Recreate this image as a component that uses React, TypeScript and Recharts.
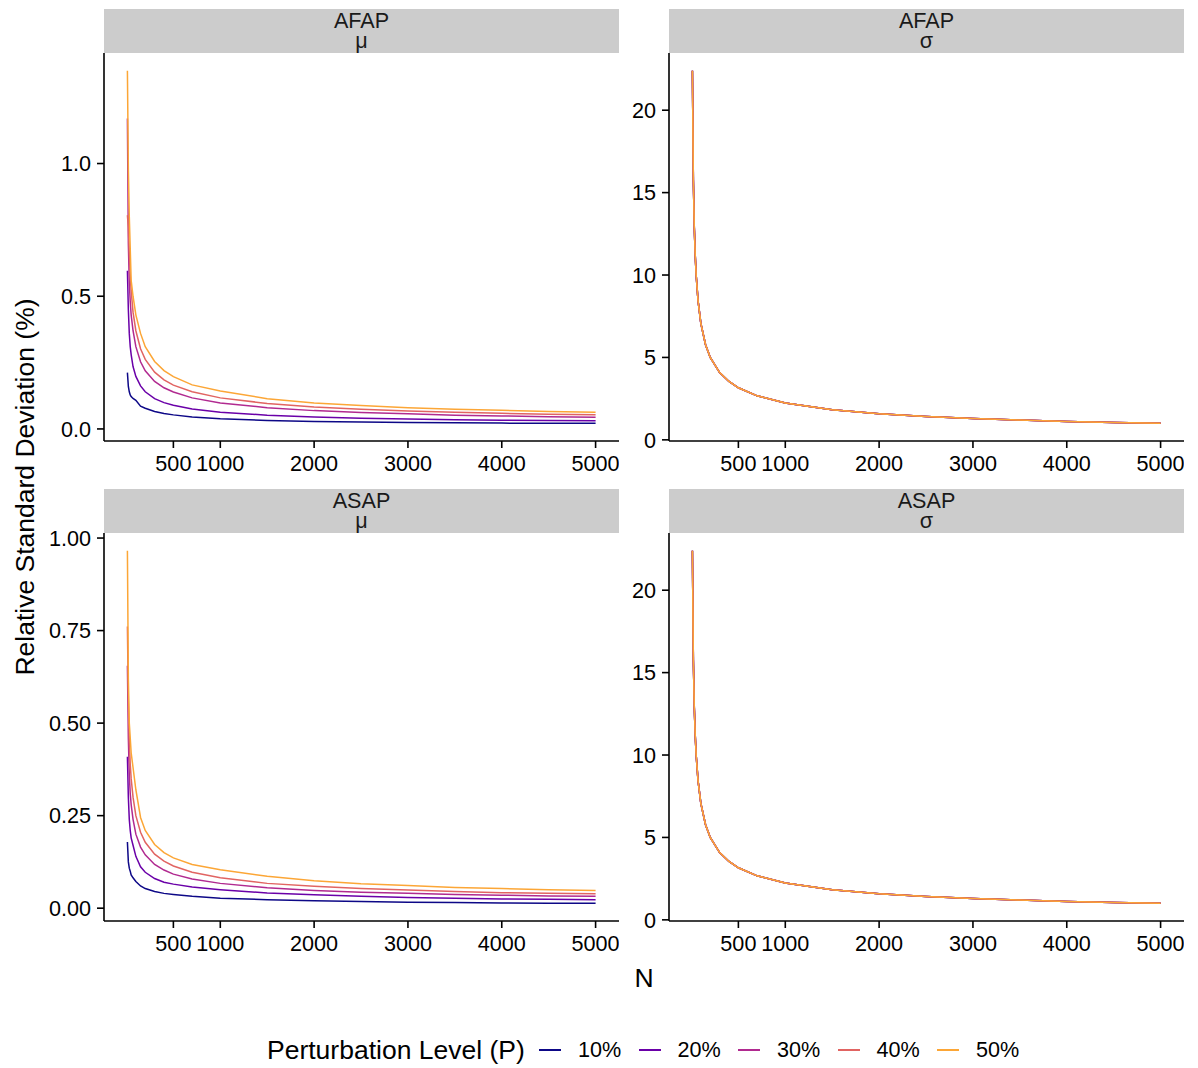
import { LineChart, Line, XAxis, YAxis } from "recharts";

// sample sizes N read along the x axis
const nValues = [10, 20, 30, 40, 50, 70, 100, 150, 200, 300, 400, 500, 700, 1000, 1500, 2000, 2500, 3000, 3500, 4000, 4500, 5000];

// AFAP, mu
const afapMu10 = [0.212, 0.16, 0.14, 0.128, 0.122, 0.115, 0.108, 0.086, 0.078, 0.066, 0.058, 0.053, 0.045, 0.038, 0.032, 0.028, 0.026, 0.024, 0.023, 0.022, 0.021, 0.021];
const afapMu20 = [0.596, 0.45, 0.36, 0.31, 0.28, 0.235, 0.198, 0.162, 0.14, 0.114, 0.099, 0.089, 0.075, 0.063, 0.052, 0.045, 0.04, 0.037, 0.035, 0.033, 0.032, 0.031];
const afapMu30 = [1.17, 0.7, 0.55, 0.48, 0.43, 0.37, 0.31, 0.253, 0.219, 0.179, 0.155, 0.139, 0.117, 0.098, 0.08, 0.069, 0.062, 0.057, 0.052, 0.049, 0.046, 0.044];
const afapMu40 = [0.805, 0.76, 0.66, 0.58, 0.52, 0.44, 0.37, 0.302, 0.262, 0.214, 0.185, 0.165, 0.14, 0.117, 0.096, 0.083, 0.074, 0.068, 0.063, 0.059, 0.055, 0.053];
const afapMu50 = [1.35, 0.98, 0.8, 0.68, 0.56, 0.5, 0.43, 0.36, 0.31, 0.254, 0.22, 0.197, 0.166, 0.143, 0.114, 0.098, 0.088, 0.08, 0.074, 0.07, 0.066, 0.063];

// ASAP, mu
const asapMu10 = [0.179, 0.125, 0.108, 0.1, 0.09, 0.082, 0.072, 0.06, 0.053, 0.045, 0.04, 0.037, 0.032, 0.027, 0.023, 0.02, 0.018, 0.016, 0.015, 0.014, 0.013, 0.013];
const asapMu20 = [0.409, 0.3, 0.24, 0.21, 0.19, 0.17, 0.14, 0.112, 0.097, 0.08, 0.07, 0.065, 0.057, 0.05, 0.041, 0.036, 0.032, 0.029, 0.027, 0.025, 0.024, 0.023];
const asapMu30 = [0.655, 0.46, 0.36, 0.31, 0.28, 0.24, 0.2, 0.165, 0.144, 0.118, 0.103, 0.092, 0.079, 0.067, 0.055, 0.048, 0.043, 0.04, 0.037, 0.035, 0.033, 0.032];
const asapMu40 = [0.761, 0.56, 0.45, 0.39, 0.35, 0.3, 0.25, 0.205, 0.178, 0.146, 0.127, 0.114, 0.097, 0.082, 0.067, 0.059, 0.053, 0.049, 0.045, 0.042, 0.04, 0.039];
const asapMu50 = [0.966, 0.62, 0.5, 0.46, 0.42, 0.38, 0.32, 0.245, 0.21, 0.172, 0.15, 0.136, 0.118, 0.104, 0.086, 0.074, 0.066, 0.061, 0.056, 0.053, 0.05, 0.048];

// sigma: the five levels lie on top of each other in both panels
const afapSigma = [22.4, 15.8, 12.9, 11.2, 10.0, 8.45, 7.07, 5.77, 5.0, 4.08, 3.54, 3.16, 2.67, 2.24, 1.83, 1.58, 1.41, 1.29, 1.2, 1.12, 1.05, 1.0];
const asapSigma = [22.4, 15.8, 12.9, 11.2, 10.0, 8.45, 7.07, 5.77, 5.0, 4.08, 3.54, 3.16, 2.67, 2.24, 1.83, 1.58, 1.41, 1.29, 1.2, 1.12, 1.05, 1.0];

const levels = ["10%", "20%", "30%", "40%", "50%"];
const colors = ["#0D0887", "#6A00A8", "#B12A90", "#E16462", "#FCA636"];

const xTicks = [500, 1000, 2000, 3000, 4000, 5000];
const muTicksAfap = [0, 0.5, 1.0];
const muTicksAsap = [0, 0.25, 0.5, 0.75, 1.0];
const sigmaTicks = [0, 5, 10, 15, 20];

const FONT = '"Liberation Sans", Arial, Helvetica, sans-serif';
const TICK_SIZE = 21.6;
const TITLE_SIZE = 26.5;

// ggplot style 5% expansion
function expand(vals: number[]): [number, number] {
  const lo = Math.min(...vals);
  const hi = Math.max(...vals);
  const r = hi - lo;
  return [lo - 0.05 * r, hi + 0.05 * r];
}

const xDomain = expand(nValues);

type PanelProps = {
  left: number;
  top: number;
  axisW: number;
  series: number[][];
  yTicks: number[];
  digits: number;
  strip: string;
};

const PW = 515;
const PH = 388;
const PAD = 20;

function Panel({ left, top, axisW, series, yTicks, digits, strip }: PanelProps) {
  const rows = nValues.map((n, i) => {
    const row: { [k: string]: number } = { n };
    series.forEach((s, j) => {
      row["p" + j] = s[i];
    });
    return row;
  });
  const yDomain = expand(series.flat());
  const axisStyle = { stroke: "#000", strokeWidth: 1.6 };

  return (
    <>
      <div
        style={{
          position: "absolute",
          left,
          top: top - 44,
          width: PW,
          height: 44,
          background: "#CCCCCC",
          display: "flex",
          alignItems: "center",
          justifyContent: "center",
          fontSize: TICK_SIZE,
          color: "#1a1a1a",
        }}
      >
        <div style={{ whiteSpace: "pre-line", textAlign: "center", lineHeight: "20.5px" }}>{strip}</div>
      </div>
      <div style={{ position: "absolute", left: left - axisW, top: top - PAD }}>
        <LineChart
          width={axisW + PW}
          height={PH + 48 + PAD}
          data={rows}
          margin={{ top: PAD, right: 0, bottom: 0, left: 0 }}
        >
          <XAxis
            dataKey="n"
            type="number"
            domain={xDomain}
            ticks={xTicks}
            interval={0}
            height={48}
            tickSize={7}
            tickMargin={8}
            axisLine={axisStyle}
            tickLine={axisStyle}
            tick={{ fill: "#000", fontSize: TICK_SIZE, fontFamily: FONT }}
            allowDataOverflow
          />
          <YAxis
            type="number"
            domain={yDomain}
            ticks={yTicks}
            interval={0}
            width={axisW}
            tickSize={7}
            tickMargin={6}
            axisLine={axisStyle}
            tickLine={axisStyle}
            tickFormatter={(v: number) => v.toFixed(digits)}
            tick={{ fill: "#000", fontSize: TICK_SIZE, fontFamily: FONT }}
            allowDataOverflow
          />
          {series.map((_, j) => (
            <Line
              key={levels[j]}
              type="linear"
              dataKey={"p" + j}
              stroke={colors[j]}
              strokeWidth={1.5}
              dot={false}
              isAnimationActive={false}
            />
          ))}
        </LineChart>
      </div>
    </>
  );
}

export default function App() {
  return (
    <div
      style={{
        position: "absolute",
        left: 0,
        top: 0,
        width: 1198,
        height: 1068,
        background: "#fff",
        fontFamily: FONT,
        color: "#000",
        overflow: "hidden",
      }}
    >
      <Panel
        left={104}
        top={53}
        axisW={100}
        series={[afapMu10, afapMu20, afapMu30, afapMu40, afapMu50]}
        yTicks={muTicksAfap}
        digits={1}
        strip={"AFAP\nμ"}
      />
      <Panel
        left={669}
        top={53}
        axisW={60}
        series={[afapSigma, afapSigma, afapSigma, afapSigma, afapSigma]}
        yTicks={sigmaTicks}
        digits={0}
        strip={"AFAP\nσ"}
      />
      <Panel
        left={104}
        top={533}
        axisW={100}
        series={[asapMu10, asapMu20, asapMu30, asapMu40, asapMu50]}
        yTicks={muTicksAsap}
        digits={2}
        strip={"ASAP\nμ"}
      />
      <Panel
        left={669}
        top={533}
        axisW={60}
        series={[asapSigma, asapSigma, asapSigma, asapSigma, asapSigma]}
        yTicks={sigmaTicks}
        digits={0}
        strip={"ASAP\nσ"}
      />

      {/* y axis title */}
      <div
        style={{
          position: "absolute",
          left: 25 - 250,
          top: 487 - 16,
          width: 500,
          height: 32,
          lineHeight: "32px",
          textAlign: "center",
          fontSize: TITLE_SIZE,
          transform: "rotate(-90deg)",
        }}
      >
        Relative Standard Deviation (%)
      </div>

      {/* x axis title */}
      <div
        style={{
          position: "absolute",
          left: 644 - 50,
          top: 978 - 16,
          width: 100,
          height: 32,
          lineHeight: "32px",
          textAlign: "center",
          fontSize: TITLE_SIZE,
        }}
      >
        N
      </div>

      {/* legend */}
      <div style={{ position: "absolute", left: 0, top: 1034, width: 1198, height: 32 }}>
        <div
          style={{
            position: "absolute",
            left: 267,
            top: 0,
            lineHeight: "32px",
            fontSize: TITLE_SIZE,
            whiteSpace: "nowrap",
          }}
        >
          Perturbation Level (P)
        </div>
        {levels.map((lab, i) => (
          <div key={lab}>
            <div
              style={{
                position: "absolute",
                left: 539 + 99.5 * i,
                top: 15,
                width: 22,
                height: 2,
                background: colors[i],
              }}
            />
            <div
              style={{
                position: "absolute",
                left: 578 + 99.5 * i,
                top: 0,
                lineHeight: "32px",
                fontSize: TICK_SIZE,
                whiteSpace: "nowrap",
              }}
            >
              {lab}
            </div>
          </div>
        ))}
      </div>
    </div>
  );
}
